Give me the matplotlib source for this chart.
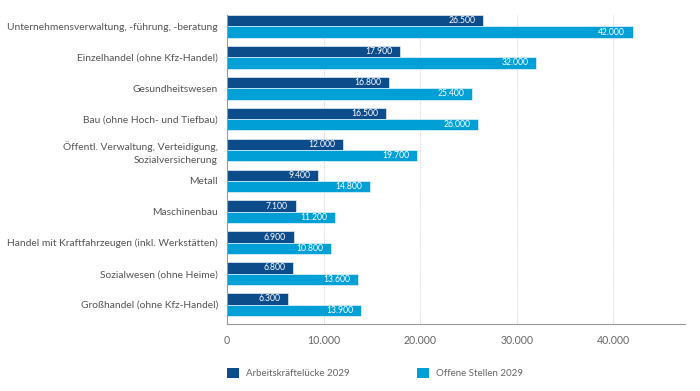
import matplotlib
matplotlib.use("Agg")
import matplotlib.pyplot as plt
from matplotlib.patches import Patch
import numpy as np

# Daten
branchen = [
    "Unternehmensverwaltung, -führung, -beratung",
    "Einzelhandel (ohne Kfz-Handel)",
    "Gesundheitswesen",
    "Bau (ohne Hoch- und Tiefbau)",
    "Öffentl. Verwaltung, Verteidigung,\nSozialversicherung",
    "Metall",
    "Maschinenbau",
    "Handel mit Kraftfahrzeugen (inkl. Werkstätten)",
    "Sozialwesen (ohne Heime)",
    "Großhandel (ohne Kfz-Handel)",
]
luecke = [26500, 17900, 16800, 16500, 12000, 9400, 7100, 6900, 6800, 6300]
offene = [42000, 32000, 25400, 26000, 19700, 14800, 11200, 10800, 13600, 13900]
x_ticks = [0, 10000, 20000, 30000, 40000]

dunkel = "#0d4c8b"
hell = "#00a0d7"
grau = "#666666"

plt.rcParams['font.family'] = ['Lato', 'DejaVu Sans']

fig = plt.figure(figsize=(7, 3.91), dpi=100)
ax = fig.add_axes([227 / 700, 1 - 324 / 391, (685 - 227) / 700, (324 - 15) / 391])

y = np.arange(len(branchen))
h = 0.368

def fmt(v):
    return f"{v:,}".replace(",", ".")

b1 = ax.barh(y - h / 2, luecke, height=h, color=dunkel, edgecolor="white", linewidth=0.4)
b2 = ax.barh(y + h / 2, offene, height=h, color=hell, edgecolor="white", linewidth=0.4)

for bars, werte in [(b1, luecke), (b2, offene)]:
    for bar, v in zip(bars, werte):
        ax.annotate(fmt(v), xy=(v, bar.get_y() + bar.get_height() / 2),
                    xytext=(-5.5, 0), textcoords="offset points",
                    ha="right", va="center", color="white", fontsize=6.2)

ax.set_ylim(9.63, -0.368)
ax.set_xlim(0, 47400)
ax.set_yticks(y)
ax.set_yticklabels(branchen, fontsize=7.4, color="#555555", linespacing=1.55)
ax.set_xticks(x_ticks)
ax.set_xticklabels([fmt(t) for t in x_ticks], fontsize=7.6, color=grau)
ax.tick_params(axis="y", length=0, pad=6.5)
ax.tick_params(axis="x", length=0, pad=8)

ax.grid(axis="x", linestyle=(0, (1, 1)), color="#cccccc", linewidth=0.6)
ax.set_axisbelow(True)
for s in ["top", "right"]:
    ax.spines[s].set_visible(False)
for s in ["left", "bottom"]:
    ax.spines[s].set_color("#999999")
    ax.spines[s].set_linewidth(0.8)

handles = [Patch(facecolor=dunkel, label="Arbeitskräftelücke 2029"),
           Patch(facecolor=hell, label="Offene Stellen 2029")]
fig.legend(handles=handles, loc="center left", bbox_to_anchor=(227 / 700, 1 - 373 / 391),
           ncol=2, frameon=False, fontsize=7.0, labelcolor=grau, borderpad=0, borderaxespad=0,
           handlelength=1.25, handleheight=1.25, handletextpad=0.73, columnspacing=6.9)

fig.savefig("out.png", dpi=100)
